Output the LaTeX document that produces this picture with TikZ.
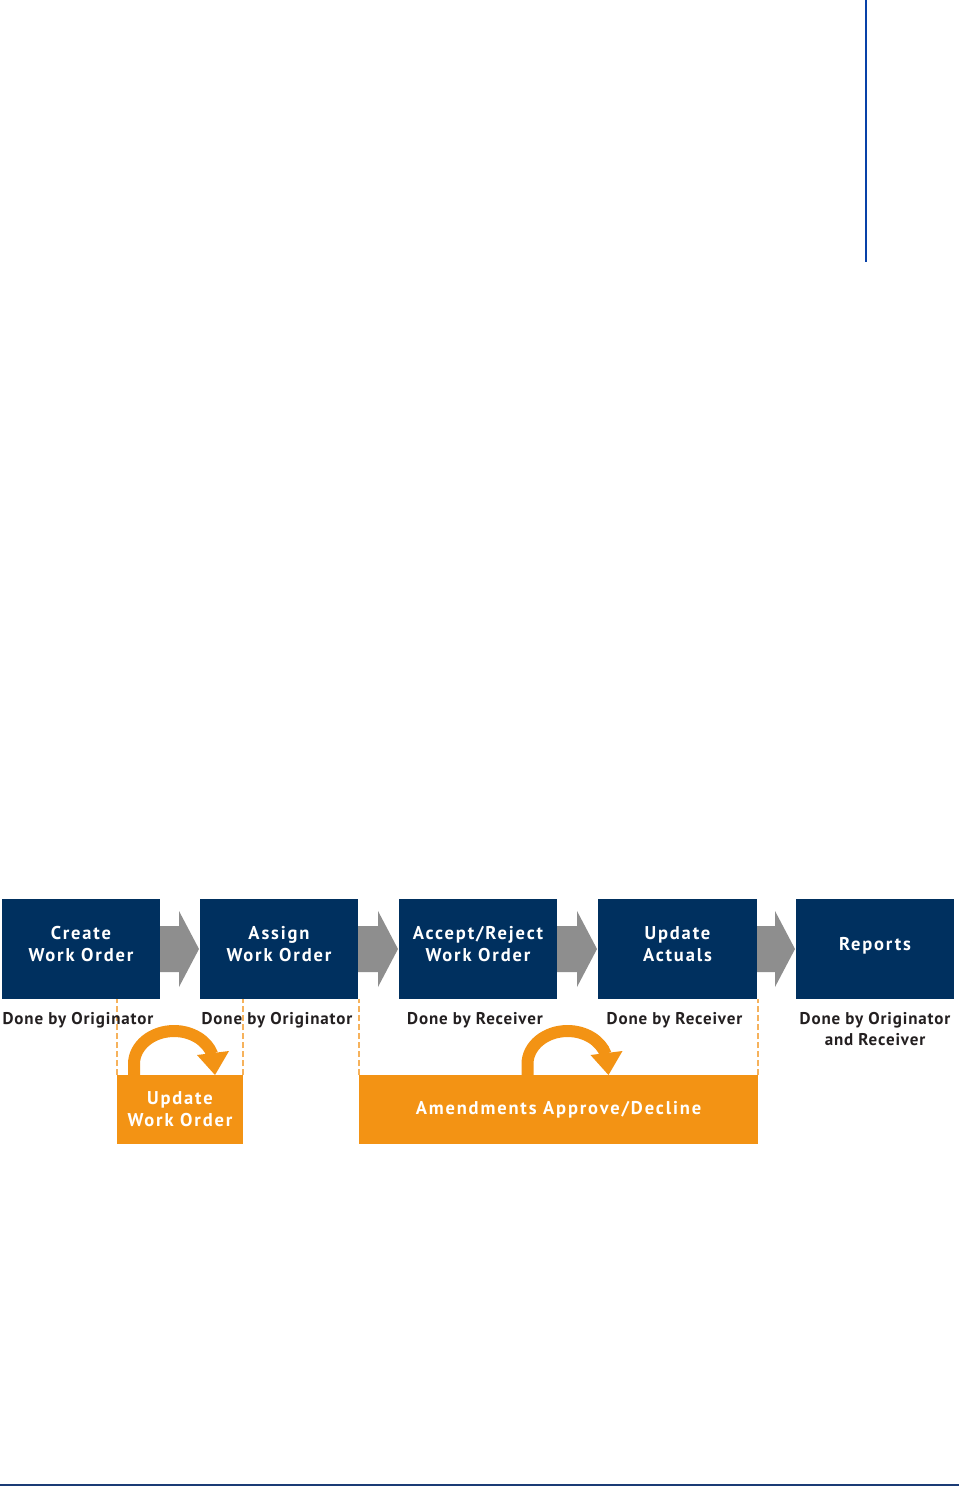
\documentclass[tikz,border=0pt]{standalone}
\usepackage{fontspec}
\setmainfont{PT Sans}
\newfontfamily\boxfont[LetterSpace=10]{PT Sans}
\newfontfamily\lblfont[LetterSpace=5]{PT Sans}
\usetikzlibrary{calc}
\definecolor{navy}{HTML}{00305F}
\definecolor{arrgray}{HTML}{8E8E8E}
\definecolor{orng}{HTML}{F39314}
\definecolor{dashorng}{HTML}{F6B25C}
\definecolor{vblue}{HTML}{0841A8}
\definecolor{bline}{HTML}{1A3B75}
\definecolor{lbltext}{HTML}{231F20}
\newcommand\flowarrow[2]{%
  \fill[arrgray] ($(#1.east)+(0,-23)$) -- ($(#2.west)+(-21,-23)$) -- ($(#2.west)+(-21,-38)$)
    -- ($(#2.west)+(-1,0)$) -- ($(#2.west)+(-21,38)$) -- ($(#2.west)+(-21,23)$)
    -- ($(#1.east)+(0,23)$) -- cycle;}
\newcommand\orangeloop[1]{%
  \draw[orng, line width=12pt, line cap=butt]
    (#1) -- ++(0,-11) arc[start angle=180, end angle=17, x radius=40pt, y radius=33pt];
  \fill[orng] ($(#1)+(63,-20)$) -- ($(#1)+(95,-24)$) -- ($(#1)+(81,0)$) -- cycle;}
\begin{document}
\begin{tikzpicture}[x=1pt,y=-1pt,
  navybox/.style={fill=navy, minimum width=158pt, minimum height=100pt,
    inner sep=0pt, outer sep=0pt},
  boxtext/.style={text=white, inner sep=0pt, align=center,
    font=\fontsize{18.5}{22}\selectfont\boxfont\bfseries},
  orngbox/.style={fill=orng, text=white, minimum height=69pt,
    inner sep=0pt, outer sep=0pt, align=center, font=\fontsize{18.5}{22}\selectfont\boxfont\bfseries},
  donelbl/.style={text=lbltext, inner sep=0pt, anchor=north, align=center,
    font=\fontsize{17}{21}\selectfont\lblfont\bfseries},
  dashline/.style={dashorng, line width=1.5pt, dash pattern=on 6pt off 3pt}]
\useasboundingbox (0,0) rectangle (959,1486);
\fill[white] (0,0) rectangle (959,1486);
% top vertical rule and bottom rule
\draw[vblue, line width=2pt] (866,0) -- (866,262);
\draw[bline, line width=2pt] (0,1485) -- (959,1485);

% process boxes
\node[navybox] (b1) at (81,949) {};
\node[navybox] (b2) at (279,949) {};
\node[navybox] (b3) at (478,949) {};
\node[navybox, minimum width=159pt] (b4) at (677.5,949) {};
\node[navybox] (b5) at (875,949) {};
\node[boxtext] (t1) at ([yshift=5pt]b1.center) {Create\\Work Order};
\node[boxtext] (t2) at ([yshift=5pt]b2.center) {Assign\\Work Order};
\node[boxtext] (t3) at ([yshift=5pt]b3.center) {Accept/Reject\\Work Order};
\node[boxtext] (t4) at ([yshift=5pt]b4.center) {Update\\Actuals};
\node[boxtext] (t5) at ([yshift=3pt]b5.center) {Reports};

\flowarrow{b1}{b2}
\flowarrow{b2}{b3}
\flowarrow{b3}{b4}
\flowarrow{b4}{b5}

% orange boxes
\node[orngbox, minimum width=126pt] (upd) at (180,1109.5) {Update\\Work Order};
\node[orngbox, minimum width=399pt] (amd) at (558.5,1109.5) {Amendments Approve/Decline};

% dashed guides
\draw[dashline] (upd.north west) -- (upd.north west |- b1.south);
\draw[dashline] (upd.north east) -- (upd.north east |- b2.south);
\draw[dashline] (amd.north west) -- (amd.north west |- b2.south);
\draw[dashline] (amd.north east) -- (amd.north east |- b4.south);

% done-by labels
\node[donelbl] (l1) at (78,1012) {Done by Originator};
\node[donelbl] (l2) at (277,1012) {Done by Originator};
\node[donelbl] (l3) at (475,1012) {Done by Receiver};
\node[donelbl] (l4) at (674.5,1012) {Done by Receiver};
\node[donelbl] (l5) at (875,1012) {Done by Originator\\and Receiver};

% loop arrows
\coordinate (u1) at (134,1075);
\coordinate (u2) at (527.5,1075);
\orangeloop{u1}
\orangeloop{u2}
\end{tikzpicture}
\end{document}
